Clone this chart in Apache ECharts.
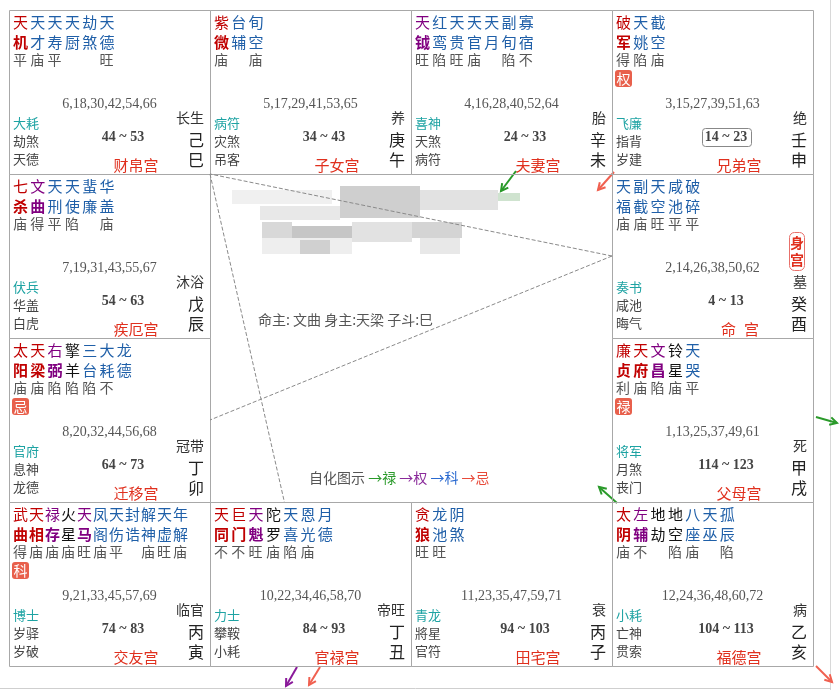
<!DOCTYPE html>
<html><head><meta charset="utf-8">
<script src="https://cdn.jsdelivr.net/npm/echarts@6/dist/echarts.min.js"></script>
<style>html,body{margin:0;padding:0;background:#fff}#c{width:839px;height:690px}</style>
</head><body><div id="c"></div>
<script>
// ---- data ----
const branches = ['巳','午','未','申','辰','酉','卯','戌','寅','丑','子','亥'];
const cols = [0,1,2,3,0,3,0,3,0,1,2,3];
const rows = [0,0,0,0,1,1,2,2,3,3,3,3];
const stems = ['己','庚','辛','壬','戊','癸','丁','甲','丙','丁','丙','乙'];
const palaces = ['财帛宫','子女宫','夫妻宫','兄弟宫','疾厄宫','命宫','迁移宫','父母宫','交友宫','官禄宫','田宅宫','福德宫'];
const stars = [
  ['天机','天才','天寿','天厨','劫煞','天德'],
  ['紫微','台辅','旬空'],
  ['天钺','红鸾','天贵','天官','天月','副旬','寡宿'],
  ['破军','天姚','截空'],
  ['七杀','文曲','天刑','天使','蜚廉','华盖'],
  ['天福','副截','天空','咸池','破碎'],
  ['太阳','天梁','右弼','擎羊','三台','大耗','龙德'],
  ['廉贞','天府','文昌','铃星','天哭'],
  ['武曲','天相','禄存','火星','天马','凤阁','天伤','封诰','解神','天虚','年解'],
  ['天同','巨门','天魁','陀罗','天喜','恩光','月德'],
  ['贪狼','龙池','阴煞'],
  ['太阴','左辅','地劫','地空','八座','天巫','孤辰']
];
// m = main star, a = auxiliary, b = malefic, x = minor
const starTypes = [
  ['m','x','x','x','x','x'],
  ['m','x','x'],
  ['a','x','x','x','x','x','x'],
  ['m','x','x'],
  ['m','a','x','x','x','x'],
  ['x','x','x','x','x'],
  ['m','m','a','b','x','x','x'],
  ['m','m','a','b','x'],
  ['m','m','a','b','a','x','x','x','x','x','x'],
  ['m','m','a','b','x','x','x'],
  ['m','x','x'],
  ['m','a','b','b','x','x','x']
];
const brightness = [
  ['平','庙','平','','','旺'],
  ['庙','','庙'],
  ['旺','陷','旺','庙','','陷','不'],
  ['得','陷','庙'],
  ['庙','得','平','陷','','庙'],
  ['庙','庙','旺','平','平'],
  ['庙','庙','陷','陷','陷','不',''],
  ['利','庙','陷','庙','平'],
  ['得','庙','庙','庙','旺','庙','平','','庙','旺','庙'],
  ['不','不','旺','庙','陷','庙',''],
  ['旺','旺',''],
  ['庙','不','','陷','庙','','陷']
];
const sihua = ['','','','权','','','忌','禄','科','','',''];
const ages = ['6,18,30,42,54,66','5,17,29,41,53,65','4,16,28,40,52,64','3,15,27,39,51,63',
  '7,19,31,43,55,67','2,14,26,38,50,62','8,20,32,44,56,68','1,13,25,37,49,61',
  '9,21,33,45,57,69','10,22,34,46,58,70','11,23,35,47,59,71','12,24,36,48,60,72'];
const boshi = ['大耗','病符','喜神','飞廉','伏兵','奏书','官府','将军','博士','力士','青龙','小耗'];
const suiqian = ['劫煞','灾煞','天煞','指背','华盖','咸池','息神','月煞','岁驿','攀鞍','將星','亡神'];
const jiangqian = ['天德','吊客','病符','岁建','白虎','晦气','龙德','丧门','岁破','小耗','官符','贯索'];
const changsheng = ['长生','养','胎','绝','沐浴','墓','冠带','死','临官','帝旺','衰','病'];
const decades = ['44 ~ 53','34 ~ 43','24 ~ 33','14 ~ 23','54 ~ 63','4 ~ 13','64 ~ 73','114 ~ 123','74 ~ 83','84 ~ 93','94 ~ 103','104 ~ 113'];
const currentDecade = 3;   // boxed decade
const bodyPalace = 5;      // 身宫
const mingZhu = '命主: 文曲 身主:天梁 子斗:巳';
const legendItems = ['→禄','→权','→科','→忌'];
// 三方四正 anchor points in cell units
const sanfangLines = [
  [[3,1.5],[1,1]],
  [[3,1.5],[1,2.5]],
  [[1,1],[1.37,3]]
];

// ---- styles ----
const CJK = '"Noto Sans CJK SC", "Noto Sans", sans-serif';
const SERIF = '"Liberation Serif", "DejaVu Serif", serif';
const starColor = {m:'#c00000', a:'#800080', b:'#111111', x:'#1f5fa8'};

function renderCell(params, api) {
  const i = api.value(2);
  const p0 = api.coord([api.value(0), api.value(1)]);
  const p1 = api.coord([api.value(0) + 1, api.value(1) + 1]);
  const x0 = p0[0], y0 = p0[1], w = p1[0] - p0[0], h = p1[1] - p0[1];
  const ch = [];
  ch.push({type:'rect', shape:{x:Math.round(x0)+0.5, y:Math.round(y0)+0.5, width:w, height:h},
    style:{fill:'none', stroke:'#a8a8a8', lineWidth:1}});
  const list = stars[i];
  const sp = Math.min(17.3, 176 / list.length);
  list.forEach(function (s, k) {
    const t = starTypes[i][k];
    const col = starColor[t];
    const x = x0 + 4 + k * sp;
    ch.push({type:'text', style:{text:s[0], x:x, y:y0 + 12, fill:col,
      font:'normal 15px ' + CJK, align:'left', verticalAlign:'middle'}});
    ch.push({type:'text', style:{text:s[1], x:x, y:y0 + 32, fill:col,
      font:((t === 'm' || t === 'a') ? 'bold ' : 'normal ') + '15px ' + CJK, align:'left', verticalAlign:'middle'}});
    const b = brightness[i][k];
    if (b) ch.push({type:'text', style:{text:b, x:x, y:y0 + 50, fill:'#555',
      font:'normal 14px ' + CJK, align:'left', verticalAlign:'middle'}});
  });
  if (sihua[i]) {
    ch.push({type:'rect', shape:{x:x0 + 3, y:y0 + 60, width:17, height:17, r:3}, style:{fill:'#e8604c'}});
    ch.push({type:'text', style:{text:sihua[i], x:x0 + 11.5, y:y0 + 68.5, fill:'#fff',
      font:'normal 14px ' + CJK, align:'center', verticalAlign:'middle'}});
  }
  ch.push({type:'text', style:{text:ages[i], x:x0 + w / 2, y:y0 + 94, fill:'#555',
    font:'normal 14px ' + SERIF, align:'center', verticalAlign:'middle'}});
  ch.push({type:'text', style:{text:boshi[i], x:x0 + 4, y:y0 + 113, fill:'#1ea3a3',
    font:'normal 13px ' + CJK, align:'left', verticalAlign:'middle'}});
  ch.push({type:'text', style:{text:suiqian[i], x:x0 + 4, y:y0 + 131, fill:'#444',
    font:'normal 13px ' + CJK, align:'left', verticalAlign:'middle'}});
  ch.push({type:'text', style:{text:jiangqian[i], x:x0 + 4, y:y0 + 149, fill:'#444',
    font:'normal 13px ' + CJK, align:'left', verticalAlign:'middle'}});
  ch.push({type:'text', style:{text:changsheng[i], x:x0 + 195, y:y0 + 108, fill:'#333',
    font:'normal 14px ' + CJK, align:'right', verticalAlign:'middle'}});
  ch.push({type:'text', style:{text:stems[i], x:x0 + 195, y:y0 + 130, fill:'#222',
    font:'normal 16px ' + CJK, align:'right', verticalAlign:'middle'}});
  ch.push({type:'text', style:{text:branches[i], x:x0 + 195, y:y0 + 150, fill:'#222',
    font:'normal 16px ' + CJK, align:'right', verticalAlign:'middle'}});
  if (i === currentDecade) {
    ch.push({type:'rect', shape:{x:x0 + 90.5, y:y0 + 118.5, width:49, height:18, r:3},
      style:{fill:'none', stroke:'#888', lineWidth:1}});
  }
  ch.push({type:'text', style:{text:decades[i], x:x0 + 114, y:y0 + 127, fill:'#444',
    font:'bold 14px ' + SERIF, align:'center', verticalAlign:'middle'}});
  const pn = palaces[i];
  if (pn.length === 2) {
    ch.push({type:'text', style:{text:pn[0], x:x0 + 116.5, y:y0 + 155, fill:'#e0301e',
      font:'normal 15px ' + CJK, align:'center', verticalAlign:'middle'}});
    ch.push({type:'text', style:{text:pn[1], x:x0 + 139.5, y:y0 + 155, fill:'#e0301e',
      font:'normal 15px ' + CJK, align:'center', verticalAlign:'middle'}});
  } else {
    ch.push({type:'text', style:{text:pn, x:x0 + 127, y:y0 + 155, fill:'#e0301e',
      font:'normal 15px ' + CJK, align:'center', verticalAlign:'middle'}});
  }
  if (i === bodyPalace) {
    ch.push({type:'rect', shape:{x:x0 + 177.5, y:y0 + 58.5, width:15, height:38, r:5},
      style:{fill:'none', stroke:'#e8706a', lineWidth:1}});
    ch.push({type:'text', style:{text:'身', x:x0 + 185, y:y0 + 69, fill:'#e0301e',
      font:'bold 14px ' + CJK, align:'center', verticalAlign:'middle'}});
    ch.push({type:'text', style:{text:'宫', x:x0 + 185, y:y0 + 86, fill:'#e0301e',
      font:'bold 14px ' + CJK, align:'center', verticalAlign:'middle'}});
  }
  return {type:'group', children:ch};
}

function arrow(x1, y1, x2, y2, color) {
  const a = Math.atan2(y2 - y1, x2 - x1), L = 8, s = 0.5;
  return {type:'group', silent:true, children:[
    {type:'line', shape:{x1:x1, y1:y1, x2:x2, y2:y2}, style:{stroke:color, lineWidth:2}},
    {type:'polyline', shape:{points:[
      [x2 - L * Math.cos(a - s), y2 - L * Math.sin(a - s)], [x2, y2],
      [x2 - L * Math.cos(a + s), y2 - L * Math.sin(a + s)]]},
      style:{stroke:color, lineWidth:2, fill:'none'}}
  ]};
}

const blur = [
  [232,190,100,14,'#f0f0f0'],[340,186,80,32,'#cfcfcf'],[420,190,78,20,'#e2e2e2'],
  [260,206,80,14,'#e8e8e8'],[498,193,22,8,'#cfe3cf'],[262,222,30,16,'#d8d8d8'],
  [292,226,60,12,'#c6c6c6'],[352,222,60,20,'#e2e2e2'],[412,222,50,16,'#d4d4d4'],
  [262,238,90,16,'#eeeeee'],[300,240,30,14,'#d0d0d0'],[420,238,40,16,'#e8e8e8']
];

const legendColors = ['#2a9a2a','#8a2a9a','#2a6ad0','#e84a3a'];
const legendRich = {g:{fill:'#555'}};
let legendText = '{g|自化图示 }';
legendItems.forEach(function (t, k) {
  legendRich['c' + k] = {fill: legendColors[k]};
  legendText += '{c' + k + '|' + t + '}' + (k < legendItems.length - 1 ? '{g| }' : '');
});

const chart = echarts.init(document.getElementById('c'), null, {renderer:'canvas'});
chart.setOption({
  animation:false,
  backgroundColor:'#fff',
  grid:{left:9, top:10, width:804, height:656},
  xAxis:{type:'value', min:0, max:4, show:false},
  yAxis:{type:'value', min:0, max:4, inverse:true, show:false},
  series:[
    {type:'custom', coordinateSystem:'cartesian2d', renderItem:renderCell, silent:true, clip:false,
      data: branches.map(function (b, i) { return [cols[i], rows[i], i]; })},
    {type:'lines', coordinateSystem:'cartesian2d', silent:true, symbol:'none',
      lineStyle:{type:'dashed', color:'#8a8a8a', width:1, opacity:1},
      data: sanfangLines.map(function (c) { return {coords:c}; })}
  ],
  graphic:[
    {type:'line', shape:{x1:830.5, y1:0, x2:830.5, y2:690}, style:{stroke:'#d8d8d8', lineWidth:1}},
    {type:'line', shape:{x1:0, y1:688.5, x2:831, y2:688.5}, style:{stroke:'#cfcfcf', lineWidth:1}}
  ].concat(blur.map(function (b) {
    return {type:'rect', shape:{x:b[0], y:b[1], width:b[2], height:b[3]}, style:{fill:b[4]}};
  })).concat([
    {type:'text', style:{text:mingZhu, x:258, y:320, fill:'#555', font:'normal 14px ' + CJK, verticalAlign:'middle'}},
    {type:'text', style:{text:legendText, x:309, y:478, font:'normal 14px ' + CJK, verticalAlign:'middle', rich:legendRich}},
    arrow(516, 171, 501, 191, '#2a9a2a'),
    arrow(614, 172, 598, 190, '#f06050'),
    arrow(816, 417, 837, 423, '#2a9a2a'),
    arrow(617, 503, 599, 487, '#2a9a2a'),
    arrow(297, 667, 286, 686, '#8a1a9a'),
    arrow(320, 667, 309, 685, '#f06050'),
    arrow(816, 666, 832, 682, '#f06050')
  ])
});
</script></body></html>
